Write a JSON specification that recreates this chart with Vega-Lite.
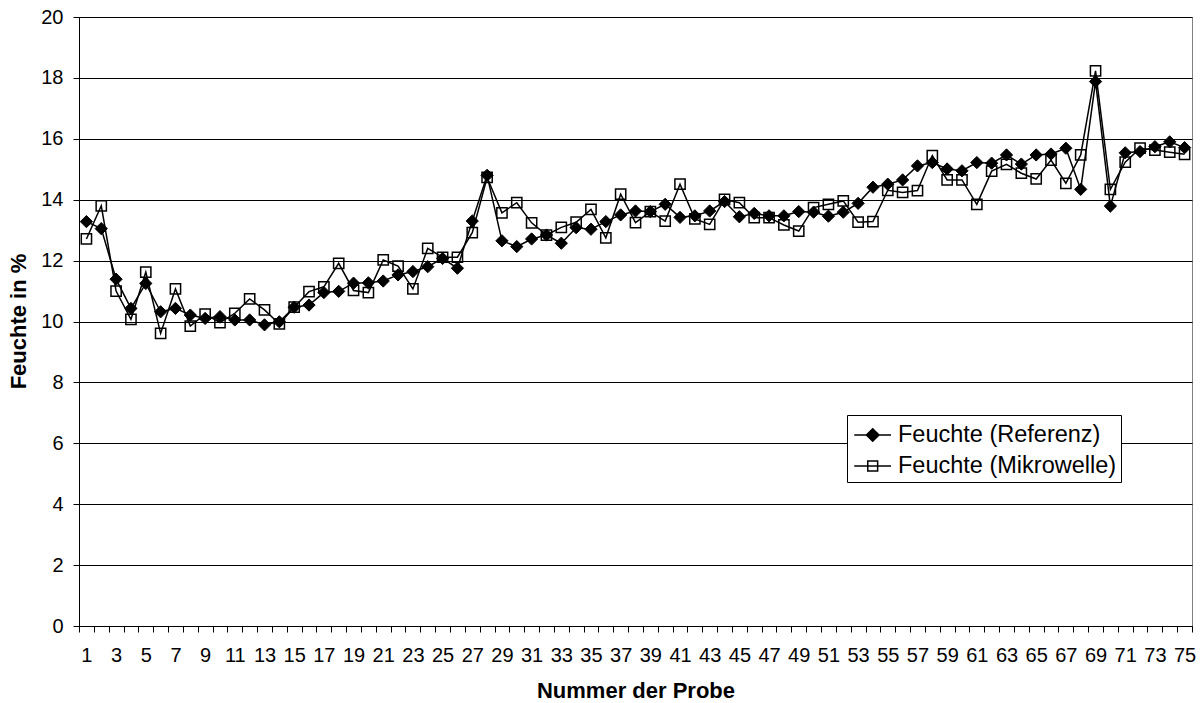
{
  "$schema": "https://vega.github.io/schema/vega-lite/v6.json",
  "width": 1113,
  "height": 609,
  "autosize": {"type": "none"},
  "padding": {"left": 79, "top": 17, "right": 11, "bottom": 77},
  "background": "white",
  "config": {
    "font": "Liberation Sans",
    "view": {"stroke": "#808080", "strokeWidth": 1},
    "axis": {
      "domainColor": "black", "tickColor": "black", "labelColor": "black", "titleColor": "black",
      "labelFontSize": 20, "titleFontSize": 22, "titleFontWeight": "bold",
      "tickSize": 6, "domainWidth": 1, "tickWidth": 1, "labelFont": "Liberation Sans", "titleFont": "Liberation Sans"
    }
  },
  "data": {"values": [
    {"Probe": 1, "Feuchte (Referenz)": 13.28, "Feuchte (Mikrowelle)": 12.71},
    {"Probe": 2, "Feuchte (Referenz)": 13.05, "Feuchte (Mikrowelle)": 13.80},
    {"Probe": 3, "Feuchte (Referenz)": 11.39, "Feuchte (Mikrowelle)": 11.00},
    {"Probe": 4, "Feuchte (Referenz)": 10.43, "Feuchte (Mikrowelle)": 10.07},
    {"Probe": 5, "Feuchte (Referenz)": 11.25, "Feuchte (Mikrowelle)": 11.62},
    {"Probe": 6, "Feuchte (Referenz)": 10.32, "Feuchte (Mikrowelle)": 9.61},
    {"Probe": 7, "Feuchte (Referenz)": 10.43, "Feuchte (Mikrowelle)": 11.07},
    {"Probe": 8, "Feuchte (Referenz)": 10.21, "Feuchte (Mikrowelle)": 9.85},
    {"Probe": 9, "Feuchte (Referenz)": 10.10, "Feuchte (Mikrowelle)": 10.24},
    {"Probe": 10, "Feuchte (Referenz)": 10.16, "Feuchte (Mikrowelle)": 9.96},
    {"Probe": 11, "Feuchte (Referenz)": 10.05, "Feuchte (Mikrowelle)": 10.27},
    {"Probe": 12, "Feuchte (Referenz)": 10.05, "Feuchte (Mikrowelle)": 10.74},
    {"Probe": 13, "Feuchte (Referenz)": 9.89, "Feuchte (Mikrowelle)": 10.38},
    {"Probe": 14, "Feuchte (Referenz)": 9.99, "Feuchte (Mikrowelle)": 9.92},
    {"Probe": 15, "Feuchte (Referenz)": 10.47, "Feuchte (Mikrowelle)": 10.47},
    {"Probe": 16, "Feuchte (Referenz)": 10.54, "Feuchte (Mikrowelle)": 10.98},
    {"Probe": 17, "Feuchte (Referenz)": 10.95, "Feuchte (Mikrowelle)": 11.14},
    {"Probe": 18, "Feuchte (Referenz)": 10.99, "Feuchte (Mikrowelle)": 11.91},
    {"Probe": 19, "Feuchte (Referenz)": 11.26, "Feuchte (Mikrowelle)": 11.02},
    {"Probe": 20, "Feuchte (Referenz)": 11.27, "Feuchte (Mikrowelle)": 10.95},
    {"Probe": 21, "Feuchte (Referenz)": 11.33, "Feuchte (Mikrowelle)": 12.02},
    {"Probe": 22, "Feuchte (Referenz)": 11.53, "Feuchte (Mikrowelle)": 11.82},
    {"Probe": 23, "Feuchte (Referenz)": 11.64, "Feuchte (Mikrowelle)": 11.07},
    {"Probe": 24, "Feuchte (Referenz)": 11.80, "Feuchte (Mikrowelle)": 12.40},
    {"Probe": 25, "Feuchte (Referenz)": 12.07, "Feuchte (Mikrowelle)": 12.11},
    {"Probe": 26, "Feuchte (Referenz)": 11.75, "Feuchte (Mikrowelle)": 12.11},
    {"Probe": 27, "Feuchte (Referenz)": 13.30, "Feuchte (Mikrowelle)": 12.92},
    {"Probe": 28, "Feuchte (Referenz)": 14.80, "Feuchte (Mikrowelle)": 14.73},
    {"Probe": 29, "Feuchte (Referenz)": 12.65, "Feuchte (Mikrowelle)": 13.57},
    {"Probe": 30, "Feuchte (Referenz)": 12.46, "Feuchte (Mikrowelle)": 13.90},
    {"Probe": 31, "Feuchte (Referenz)": 12.71, "Feuchte (Mikrowelle)": 13.24},
    {"Probe": 32, "Feuchte (Referenz)": 12.84, "Feuchte (Mikrowelle)": 12.84},
    {"Probe": 33, "Feuchte (Referenz)": 12.57, "Feuchte (Mikrowelle)": 13.09},
    {"Probe": 34, "Feuchte (Referenz)": 13.08, "Feuchte (Mikrowelle)": 13.26},
    {"Probe": 35, "Feuchte (Referenz)": 13.03, "Feuchte (Mikrowelle)": 13.68},
    {"Probe": 36, "Feuchte (Referenz)": 13.28, "Feuchte (Mikrowelle)": 12.75},
    {"Probe": 37, "Feuchte (Referenz)": 13.50, "Feuchte (Mikrowelle)": 14.18},
    {"Probe": 38, "Feuchte (Referenz)": 13.63, "Feuchte (Mikrowelle)": 13.25},
    {"Probe": 39, "Feuchte (Referenz)": 13.61, "Feuchte (Mikrowelle)": 13.61},
    {"Probe": 40, "Feuchte (Referenz)": 13.85, "Feuchte (Mikrowelle)": 13.30},
    {"Probe": 41, "Feuchte (Referenz)": 13.42, "Feuchte (Mikrowelle)": 14.51},
    {"Probe": 42, "Feuchte (Referenz)": 13.47, "Feuchte (Mikrowelle)": 13.37},
    {"Probe": 43, "Feuchte (Referenz)": 13.63, "Feuchte (Mikrowelle)": 13.19},
    {"Probe": 44, "Feuchte (Referenz)": 13.94, "Feuchte (Mikrowelle)": 14.01},
    {"Probe": 45, "Feuchte (Referenz)": 13.44, "Feuchte (Mikrowelle)": 13.90},
    {"Probe": 46, "Feuchte (Referenz)": 13.55, "Feuchte (Mikrowelle)": 13.41},
    {"Probe": 47, "Feuchte (Referenz)": 13.47, "Feuchte (Mikrowelle)": 13.41},
    {"Probe": 48, "Feuchte (Referenz)": 13.47, "Feuchte (Mikrowelle)": 13.17},
    {"Probe": 49, "Feuchte (Referenz)": 13.61, "Feuchte (Mikrowelle)": 12.97},
    {"Probe": 50, "Feuchte (Referenz)": 13.59, "Feuchte (Mikrowelle)": 13.74},
    {"Probe": 51, "Feuchte (Referenz)": 13.46, "Feuchte (Mikrowelle)": 13.85},
    {"Probe": 52, "Feuchte (Referenz)": 13.59, "Feuchte (Mikrowelle)": 13.96},
    {"Probe": 53, "Feuchte (Referenz)": 13.88, "Feuchte (Mikrowelle)": 13.26},
    {"Probe": 54, "Feuchte (Referenz)": 14.41, "Feuchte (Mikrowelle)": 13.28},
    {"Probe": 55, "Feuchte (Referenz)": 14.51, "Feuchte (Mikrowelle)": 14.31},
    {"Probe": 56, "Feuchte (Referenz)": 14.65, "Feuchte (Mikrowelle)": 14.24},
    {"Probe": 57, "Feuchte (Referenz)": 15.11, "Feuchte (Mikrowelle)": 14.30},
    {"Probe": 58, "Feuchte (Referenz)": 15.22, "Feuchte (Mikrowelle)": 15.45},
    {"Probe": 59, "Feuchte (Referenz)": 15.01, "Feuchte (Mikrowelle)": 14.65},
    {"Probe": 60, "Feuchte (Referenz)": 14.95, "Feuchte (Mikrowelle)": 14.65},
    {"Probe": 61, "Feuchte (Referenz)": 15.22, "Feuchte (Mikrowelle)": 13.85},
    {"Probe": 62, "Feuchte (Referenz)": 15.20, "Feuchte (Mikrowelle)": 14.94},
    {"Probe": 63, "Feuchte (Referenz)": 15.47, "Feuchte (Mikrowelle)": 15.16},
    {"Probe": 64, "Feuchte (Referenz)": 15.17, "Feuchte (Mikrowelle)": 14.87},
    {"Probe": 65, "Feuchte (Referenz)": 15.47, "Feuchte (Mikrowelle)": 14.68},
    {"Probe": 66, "Feuchte (Referenz)": 15.50, "Feuchte (Mikrowelle)": 15.30},
    {"Probe": 67, "Feuchte (Referenz)": 15.69, "Feuchte (Mikrowelle)": 14.54},
    {"Probe": 68, "Feuchte (Referenz)": 14.34, "Feuchte (Mikrowelle)": 15.47},
    {"Probe": 69, "Feuchte (Referenz)": 17.88, "Feuchte (Mikrowelle)": 18.23},
    {"Probe": 70, "Feuchte (Referenz)": 13.79, "Feuchte (Mikrowelle)": 14.34},
    {"Probe": 71, "Feuchte (Referenz)": 15.54, "Feuchte (Mikrowelle)": 15.23},
    {"Probe": 72, "Feuchte (Referenz)": 15.58, "Feuchte (Mikrowelle)": 15.69},
    {"Probe": 73, "Feuchte (Referenz)": 15.74, "Feuchte (Mikrowelle)": 15.63},
    {"Probe": 74, "Feuchte (Referenz)": 15.90, "Feuchte (Mikrowelle)": 15.56},
    {"Probe": 75, "Feuchte (Referenz)": 15.71, "Feuchte (Mikrowelle)": 15.49}
  ]},
  "transform": [
    {"fold": ["Feuchte (Referenz)", "Feuchte (Mikrowelle)"], "as": ["Serie", "Feuchte"]}
  ],
  "encoding": {
    "x": {
      "field": "Probe", "type": "ordinal", "bandPosition": 0.5,
      "scale": {"type": "band", "paddingInner": 0, "paddingOuter": 0},
      "axis": {
        "title": "Nummer der Probe", "labelAngle": 0, "tickBand": "extent",
        "labelExpr": "datum.value % 2 == 1 ? datum.label : ''",
        "labelOverlap": false, "labelPadding": 13, "grid": false,
        "titleY": 64, "titleBaseline": "middle"
      }
    },
    "y": {
      "field": "Feuchte", "type": "quantitative",
      "scale": {"domain": [0, 20], "nice": false},
      "axis": {
        "title": "Feuchte in %", "values": [0, 2, 4, 6, 8, 10, 12, 14, 16, 18, 20],
        "grid": true, "gridColor": "black", "gridWidth": 1, "gridOpacity": 1,
        "labelPadding": 10, "titleX": -61, "titleY": 304, "titleBaseline": "middle", "titleAngle": -90
      }
    }
  },
  "layer": [
    {
      "mark": {"type": "line", "strokeWidth": 1.5},
      "encoding": {
        "stroke": {
          "field": "Serie", "type": "nominal",
          "scale": {"domain": ["Feuchte (Referenz)", "Feuchte (Mikrowelle)"], "range": ["black", "#000000"]},
          "legend": {
            "orient": "none", "legendX": 768, "legendY": 398, "title": null,
            "labelFontSize": 23.5, "labelFont": "Liberation Sans", "labelColor": "black", "labelLimit": 500,
            "symbolSize": 900, "rowPadding": 3, "padding": 4,
            "strokeColor": "black", "fillColor": "white", "labelOffset": 15,
            "symbolStrokeWidth": 1.5,
            "encode": {
              "symbols": {
                "update": {
                  "shape": {"signal": "datum.value == 'Feuchte (Referenz)' ? 'M-0.85,0H1.6M-0.04,0L0.38,-0.42L0.8,0L0.38,0.42Z' : 'M-0.85,0H1.6M0.05,-0.33H0.71V0.33H0.05Z'"},
                  "fill": {"signal": "datum.value == 'Feuchte (Referenz)' ? 'black' : 'transparent'"},
                  "stroke": {"value": "black"},
                  "strokeWidth": {"value": 1.5},
                  "size": {"value": 900},
                  "opacity": {"value": 1}
                }
              }
            }
          }
        }
      }
    },
    {
      "transform": [{"filter": "datum.Serie == 'Feuchte (Referenz)'"}],
      "mark": {"type": "point", "shape": "diamond", "filled": true, "fill": "black", "stroke": "black", "strokeWidth": 1, "size": 150, "opacity": 1}
    },
    {
      "transform": [{"filter": "datum.Serie == 'Feuchte (Mikrowelle)'"}],
      "mark": {"type": "point", "shape": "square", "filled": false, "fill": "transparent", "stroke": "black", "strokeWidth": 1.5, "size": 105, "opacity": 1}
    }
  ]
}
